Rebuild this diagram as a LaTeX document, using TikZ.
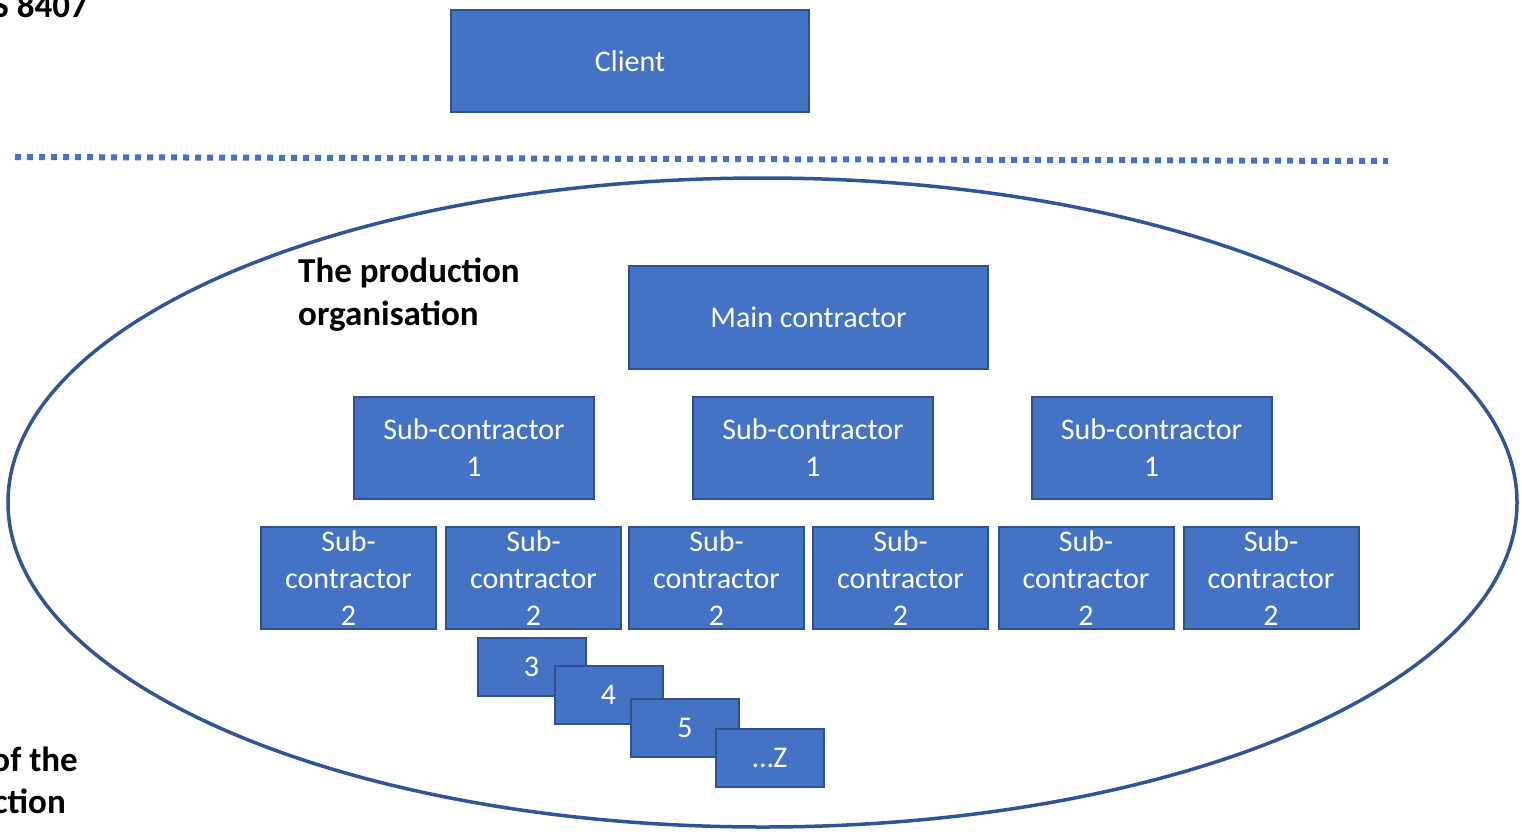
\documentclass[tikz,border=0pt]{standalone}
\usepackage{fontspec}
\setmainfont{Carlito}
\definecolor{boxfill}{HTML}{4472C4}
\definecolor{boxline}{HTML}{2F528F}
\definecolor{ellline}{HTML}{2F5597}
\begin{document}
\begin{tikzpicture}[x=1pt,y=-1pt,
  box/.style={draw=boxline, line width=2pt, fill=boxfill, text=white, inner sep=0pt,
    align=center, font=\fontsize{30}{37}\selectfont},
  bigbox/.style={box, minimum width=358pt, minimum height=102pt},
  subone/.style={box, minimum width=240pt, minimum height=102pt},
  subtwo/.style={box, minimum width=175pt, minimum height=102pt},
  small/.style={box, minimum width=108pt, minimum height=58pt},
  lbl/.style={inner sep=0pt, font=\bfseries\fontsize{35}{43}\selectfont}]
\useasboundingbox (0,0) rectangle (1522,833);
\fill[white] (0,0) rectangle (1522,833);
% clipped labels at the left edge
\node[lbl, anchor=base east] (ns) at (88,17) {S 8407};
\node[lbl, anchor=base east] (part1) at (78,771) {of the};
\node[lbl, anchor=base east] (part2) at (66,813) {ction};
% client
\node[bigbox] (client) at (630,61) {Client};
% dotted separator
\coordinate (dl) at (15,157);
\coordinate (dr) at (1388,161);
\draw[boxfill, line width=6pt, dash pattern=on 6pt off 6pt] (dl) -- (dr);
% ellipse
\draw[ellline, line width=3.5pt] (762.5,502.5) ellipse [x radius=754.5, y radius=324.5];
% title
\node[lbl, anchor=base west] (prod1) at (298,282) {The production};
\node[lbl, anchor=base west] (prod2) at (298,325) {organisation};
% main contractor
\node[bigbox, minimum width=359pt, minimum height=103pt] (main) at (808.5,317.5) {Main contractor};
% sub-contractor 1
\node[subone] (s1a) at (474,448) {Sub-contractor\\1};
\node[subone] (s1b) at (813,448) {Sub-contractor\\1};
\node[subone] (s1c) at (1151.5,448) {Sub-contractor\\1};
% sub-contractor 2
\node[subtwo] (s2a) at (348.5,578) {Sub-\\contractor\\2};
\node[subtwo] (s2b) at (533.5,578) {Sub-\\contractor\\2};
\node[subtwo] (s2c) at (716.5,578) {Sub-\\contractor\\2};
\node[subtwo] (s2d) at (900.5,578) {Sub-\\contractor\\2};
\node[subtwo] (s2e) at (1086,578) {Sub-\\contractor\\2};
\node[subtwo] (s2f) at (1271,578) {Sub-\\contractor\\2};
% small cascade
\node[small] (n3) at (531.5,666.5) {3};
\node[small] (n4) at (608.5,695) {4};
\node[small] (n5) at (685,727.5) {5};
\node[small] (nz) at (770,758) {…Z};
\end{tikzpicture}
\end{document}
